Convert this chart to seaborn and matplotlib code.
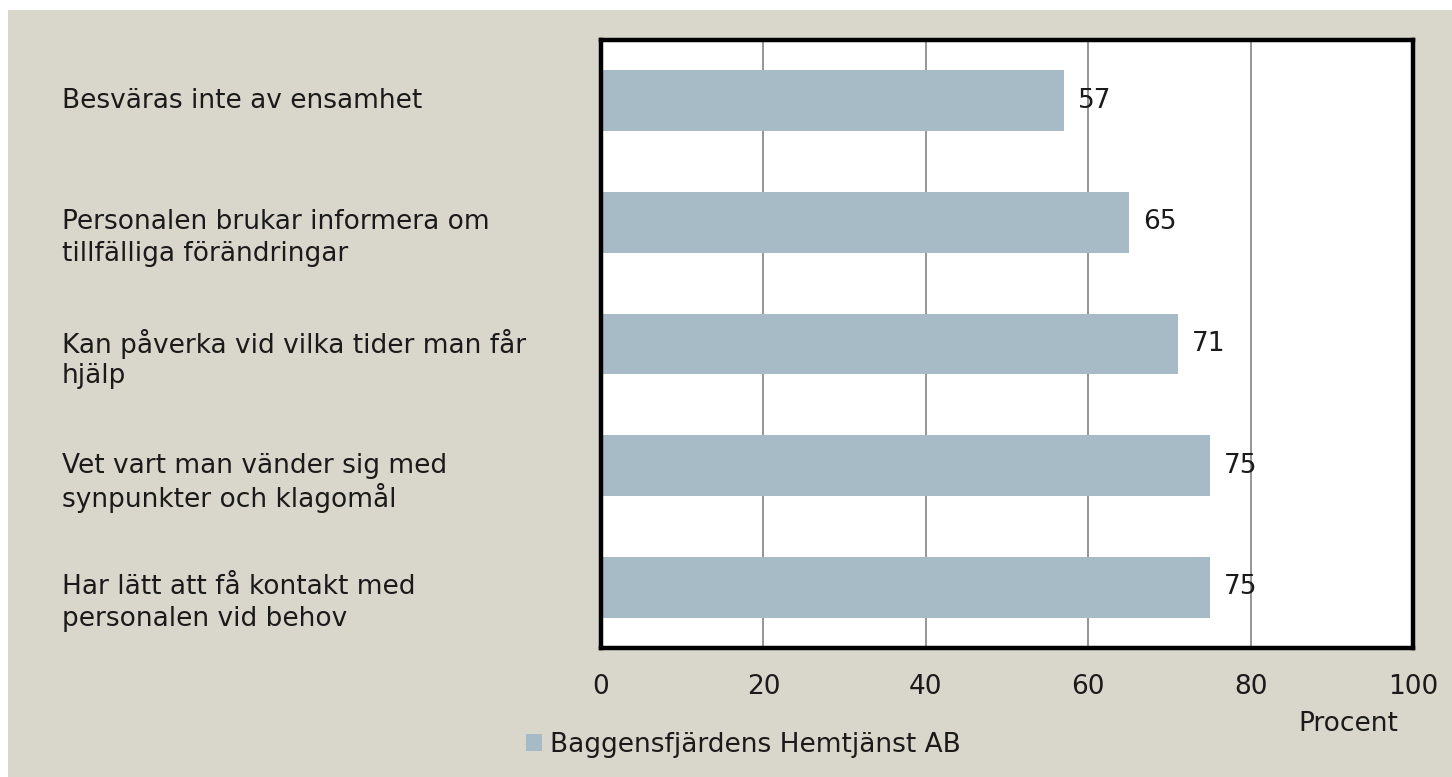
import matplotlib
matplotlib.use("Agg")
import matplotlib.pyplot as plt
import matplotlib.transforms as mtransforms
from matplotlib.patches import Rectangle
import pandas as pd
import seaborn as sns

# Data
categories = [
    "Besväras inte av ensamhet",
    "Personalen brukar informera om\ntillfälliga förändringar",
    "Kan påverka vid vilka tider man får\nhjälp",
    "Vet vart man vänder sig med\nsynpunkter och klagomål",
    "Har lätt att få kontakt med\npersonalen vid behov",
]
values = [57, 65, 71, 75, 75]
series_name = "Baggensfjärdens Hemtjänst AB"
xticks = [0, 20, 40, 60, 80, 100]

bg = "#d9d7cb"
bar_color = "#a7bbc6"
txt = "#1a1a1a"
fs = 19

sns.set_theme(style="white")
plt.rcParams["font.family"] = ["DejaVu Sans"]

df = pd.DataFrame({"label": categories, "value": values})

fig = plt.figure(figsize=(14.52, 7.77), dpi=100, facecolor="white")
fig.patches.append(Rectangle((8 / 1452, 0), 1, 1 - 10 / 777, transform=fig.transFigure,
                             facecolor=bg, edgecolor="none", zorder=-10))
ax = fig.add_axes([601 / 1452, 1 - 648 / 777, 812 / 1452, 608 / 777])
ax.set_facecolor("white")

sns.barplot(data=df, x="value", y="label", orient="h", color=bar_color, width=0.5,
            saturation=1, label=series_name, linewidth=0, ax=ax, zorder=2)

ax.set_xlim(0, 100)
ax.set_xticks(xticks)
ax.tick_params(axis="x", length=0, pad=19, labelsize=fs, colors=txt)
for x in xticks[1:-1]:
    ax.axvline(x, color="#8c8c8c", lw=1.3, zorder=1)
ax.set_yticks(range(len(categories)))
ax.set_yticklabels([])
ax.tick_params(axis="y", length=0)
ax.set_ylabel("")
ax.set_xlabel("")
for s in ax.spines.values():
    s.set_visible(True)
    s.set_color("black")
    s.set_linewidth(3.2)
    s.set_zorder(4)

# value labels
ax.bar_label(ax.containers[0], labels=[str(v) for v in values], padding=10,
             fontsize=fs, color=txt, zorder=5)

# category labels, first line at bar centre
trans = mtransforms.blended_transform_factory(fig.transFigure, ax.transData)
for i, lab in enumerate(categories):
    for k, line in enumerate(lab.split("\n")):
        off = mtransforms.ScaledTranslation(0, -k * 0.32, fig.dpi_scale_trans)
        fig.text(62 / 1452, i, line, transform=trans + off, ha="left", va="center",
                 fontsize=fs, color=txt)

fig.text(1348 / 1452, 1 - 724 / 777, "Procent", ha="center", va="center",
         fontsize=fs, color=txt)

ax.legend(loc="center", bbox_to_anchor=(743 / 1452, 1 - 745 / 777),
          bbox_transform=fig.transFigure, frameon=False, fontsize=fs,
          handlelength=0.6, handleheight=0.6, handletextpad=0.3,
          labelcolor=txt)

fig.savefig("out.png", dpi=100, facecolor=fig.get_facecolor())
